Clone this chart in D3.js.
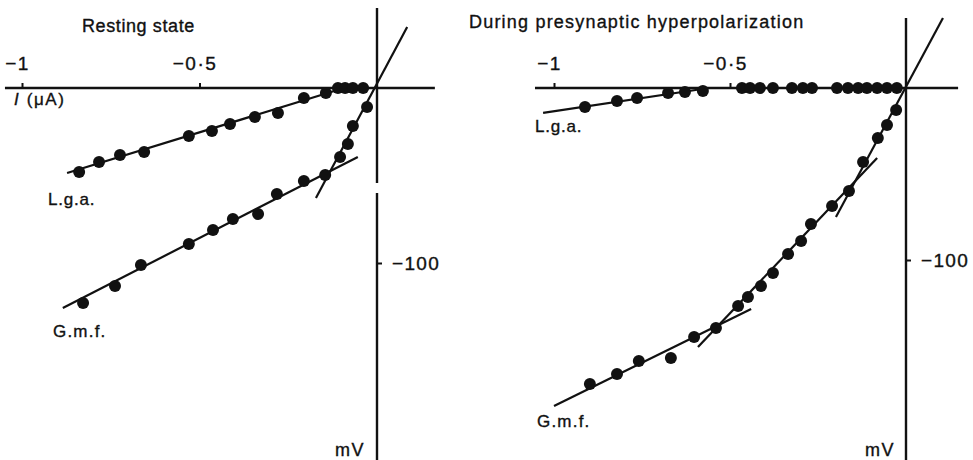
<!DOCTYPE html>
<html lang="en">
<head>
<meta charset="utf-8">
<title>I-V relations</title>
<script src="https://cdn.jsdelivr.net/npm/d3@7"></script>
<style>
  body { margin: 0; background: #fff; }
  text { font-family: "Liberation Sans", Arial, sans-serif; fill: #111; stroke: #111; stroke-width: 0.35px; }
</style>
</head>
<body>
<script>
// values: current in uA, voltage in mV

// ticks
var xTickValues = [-1, -0.5];
var xTickLabels = ["\u22121", "\u22120\u00b75"];
var yTickValues = [-100];
var yTickLabels = ["\u2212100"];

// resting state
var restLgaI = [-0.839, -0.783, -0.724, -0.656, -0.530, -0.465, -0.414, -0.344, -0.279, -0.206, -0.144, -0.110, -0.090, -0.068, -0.039];
var restLgaV = [-48.0, -42.3, -38.3, -36.6, -27.4, -24.6, -20.6, -16.6, -14.3, -5.7, -2.9, 0, 0, 0, 0];
var restGmfI = [-0.828, -0.738, -0.665, -0.530, -0.462, -0.406, -0.335, -0.282, -0.206, -0.146, -0.104, -0.082, -0.068, -0.028];
var restGmfV = [-122.9, -113.1, -101.1, -89.1, -81.1, -74.9, -72.0, -60.6, -53.1, -49.7, -39.4, -32.0, -21.7, -10.9];
// fitted lines [I1, V1, I2, V2]
var restFits = [
  [-0.873, -48.6, -0.093, 0],
  [-0.885, -125.7, -0.054, -39.4],
  [-0.172, -62.9, 0.085, 34.9]
];

// during presynaptic hyperpolarization
var hypLgaI = [-0.912, -0.821, -0.764, -0.676, -0.628, -0.577, -0.466, -0.443, -0.415, -0.378, -0.324, -0.293, -0.267, -0.196, -0.165, -0.136, -0.111, -0.082, -0.054, -0.026];
var hypLgaV = [-11.0, -7.6, -5.8, -2.9, -2.3, -1.7, 0, 0, 0, 0, 0, 0, 0, 0, 0, 0, 0, 0, 0, 0];
var hypGmfI = [-0.898, -0.821, -0.759, -0.668, -0.602, -0.540, -0.477, -0.449, -0.412, -0.378, -0.335, -0.298, -0.270, -0.210, -0.162, -0.122, -0.080, -0.054, -0.028];
var hypGmfV = [-172.1, -166.3, -158.7, -157.0, -144.8, -139.5, -126.7, -121.5, -115.1, -107.6, -96.5, -89.0, -79.1, -68.6, -59.9, -43.0, -29.1, -21.5, -12.8];
var hypFits = [
  [-1.031, -14.5, -0.56, 0],
  [-1.0, -184.9, -0.440, -128.5],
  [-0.591, -150.6, -0.082, -40.7],
  [-0.199, -75.0, 0.105, 40.7]
];

var w = 973, h = 460;

var svg = d3.select("body").append("svg")
  .attr("width", w)
  .attr("height", h);

function zip(a, b) {
  return a.map(function(d, i) { return [d, b[i]]; });
}

function drawPanel(p) {
  var g = svg.append("g");
  var x = d3.scaleLinear().domain([-1, 0]).range(p.xRange);
  var y = d3.scaleLinear().domain([0, -100]).range(p.yRange);

  // axis lines
  g.append("line")
    .attr("x1", x(p.xExtent[0])).attr("x2", x(p.xExtent[1]))
    .attr("y1", y(0)).attr("y2", y(0))
    .attr("stroke", "#111").attr("stroke-width", 2.4);
  p.ySegments.forEach(function(s) {
    g.append("line")
      .attr("x1", x(0)).attr("x2", x(0))
      .attr("y1", y(s[0])).attr("y2", y(s[1]))
      .attr("stroke", "#111").attr("stroke-width", 2.4);
  });

  // ticks + labels
  var xAxis = d3.axisTop(x)
    .tickValues(xTickValues)
    .tickSize(5)
    .tickPadding(13)
    .tickFormat(function(d, i) { return xTickLabels[i]; });
  var gx = g.append("g")
    .attr("transform", "translate(0," + y(0) + ")")
    .call(xAxis);
  gx.select(".domain").remove();
  gx.selectAll(".tick line").attr("stroke", "#111").attr("stroke-width", 2);
  gx.selectAll(".tick text")
    .attr("font-size", 19)
    .attr("font-family", null)
    .attr("letter-spacing", 1.5)
    .attr("dx", -5);

  var yAxis = d3.axisRight(y)
    .tickValues(yTickValues)
    .tickSize(5)
    .tickPadding(10)
    .tickFormat(function(d, i) { return yTickLabels[i]; });
  var gy = g.append("g")
    .attr("transform", "translate(" + x(0) + ",0)")
    .call(yAxis);
  gy.select(".domain").remove();
  gy.selectAll(".tick line").attr("stroke", "#111").attr("stroke-width", 2);
  gy.selectAll(".tick text")
    .attr("font-size", 19)
    .attr("font-family", null)
    .attr("letter-spacing", 1.3);

  // fitted lines
  g.selectAll("line.fit")
    .data(p.fits)
    .enter()
    .append("line")
    .attr("class", "fit")
    .attr("x1", function(d) { return x(d[0]); })
    .attr("y1", function(d) { return y(d[1]); })
    .attr("x2", function(d) { return x(d[2]); })
    .attr("y2", function(d) { return y(d[3]); })
    .attr("stroke", "#111")
    .attr("stroke-width", 2.2);

  // points
  var pts = zip(p.lgaI, p.lgaV).concat(zip(p.gmfI, p.gmfV));
  g.selectAll("circle")
    .data(pts)
    .enter()
    .append("circle")
    .attr("cx", function(d) { return x(d[0]); })
    .attr("cy", function(d) { return y(d[1]); })
    .attr("r", 6)
    .attr("fill", "#111");

  // text
  p.texts.forEach(function(t) {
    g.append("text")
      .attr("x", t[1]).attr("y", t[2])
      .attr("font-size", t[3])
      .attr("letter-spacing", t[4])
      .text(t[0]);
  });
}

drawPanel({
  xRange: [22, 377], yRange: [88, 263],
  xExtent: [-1.048, 0.163],
  ySegments: [[45.7, -54.3], [-60, -212.6]],
  lgaI: restLgaI, lgaV: restLgaV, gmfI: restGmfI, gmfV: restGmfV,
  fits: restFits,
  texts: [
    ["Resting state", 82, 32, 18, 0.6],
    ["L.g.a.", 48, 205, 17, 0.8],
    ["G.m.f.", 53, 337, 17, 1.2],
    ["mV", 335, 456, 18, 1.5]
  ]
});

drawPanel({
  xRange: [554, 906], yRange: [88, 260],
  xExtent: [-1.054, 0.148],
  ySegments: [[40.7, -216.3]],
  lgaI: hypLgaI, lgaV: hypLgaV, gmfI: hypGmfI, gmfV: hypGmfV,
  fits: hypFits,
  texts: [
    ["During presynaptic hyperpolarization", 469, 28, 18, 1.2],
    ["L.g.a.", 535, 132, 17, 0.8],
    ["G.m.f.", 537, 427, 17, 1.2],
    ["mV", 865, 456, 18, 1.5]
  ]
});

// current axis label (left panel only)
var lab = svg.append("text")
  .attr("x", 14).attr("y", 105)
  .attr("font-size", 17)
  .attr("letter-spacing", 1.6);
lab.append("tspan").attr("font-style", "italic").text("I");
lab.append("tspan").text(" (\u03bcA)");
</script>
</body>
</html>
